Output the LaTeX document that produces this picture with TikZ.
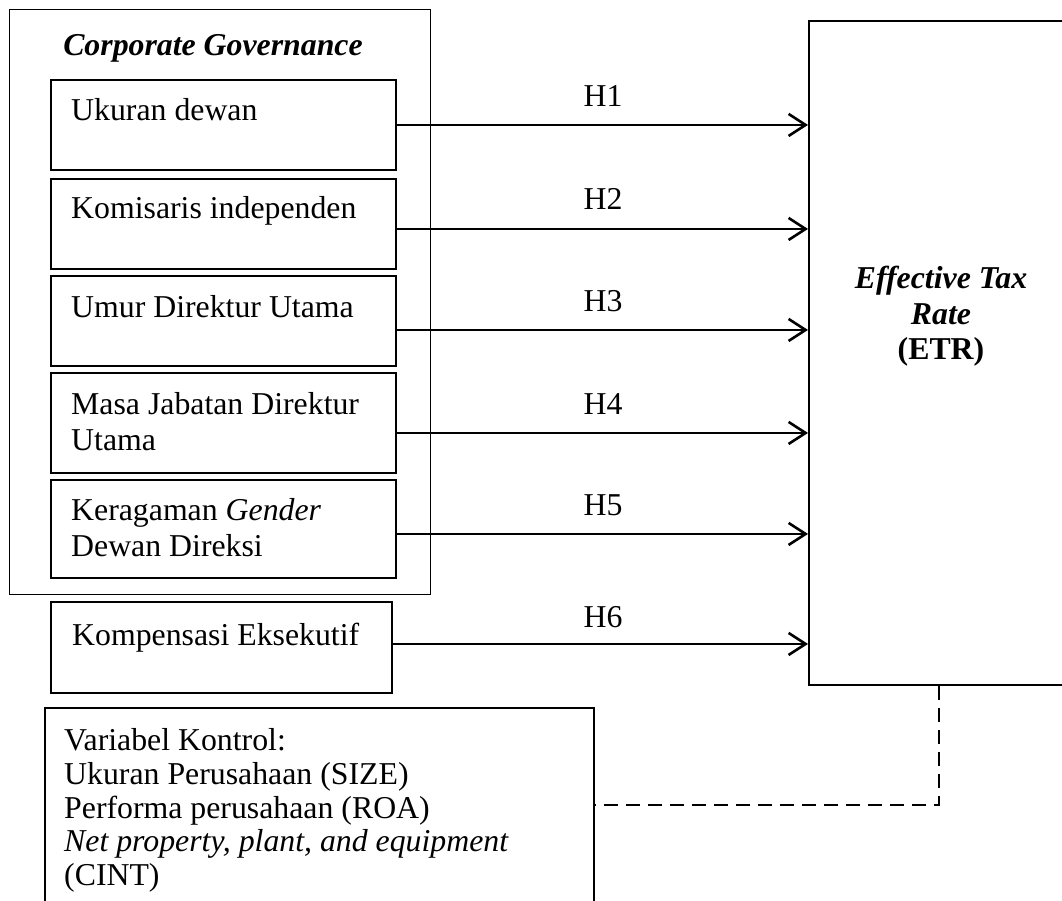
\documentclass[tikz,border=0pt]{standalone}
\usepackage{fontspec}
\setmainfont{Liberation Serif}
\usetikzlibrary{arrows.meta}
\newcommand\myfs{\fontsize{31.8}{35}\selectfont}
\begin{document}
\begin{tikzpicture}[x=1pt,y=-1pt,
  vbox/.style={draw, line width=1.9pt, inner sep=0pt, anchor=north west},
  outerbox/.style={draw, line width=1.2pt, inner sep=0pt, anchor=north west},
  lbl/.style={inner sep=0pt, anchor=base west, font=\myfs},
  hyp/.style={inner sep=0pt, anchor=base, font=\myfs},
  arr/.style={line width=2.6pt, -{Straight Barb[length=17pt,width=22pt]}},
  ctl/.style={line width=1.7pt, dash pattern=on 14pt off 8pt}
]
\useasboundingbox (0,0) rectangle (1062,901);
\clip (0,0) rectangle (1062,901);

% Corporate governance group
\node[outerbox, minimum width=421pt, minimum height=585pt] (cg) at (9,9) {};
\node[hyp, font=\myfs\bfseries\itshape] (cgt) at (213,56) {Corporate Governance};

% variable boxes
\node[vbox, minimum width=345pt, minimum height=90pt] (b1) at (50,79) {};
\node[vbox, minimum width=345pt, minimum height=90pt] (b2) at (50,178) {};
\node[vbox, minimum width=345pt, minimum height=90pt] (b3) at (50,275) {};
\node[vbox, minimum width=345pt, minimum height=100pt] (b4) at (50,372) {};
\node[vbox, minimum width=345pt, minimum height=98pt] (b5) at (50,479) {};
\node[vbox, minimum width=341pt, minimum height=91pt] (b6) at (50,601) {};
\node[vbox, minimum width=549pt, minimum height=240pt] (ctrl) at (44,707) {};
\node[vbox, minimum width=266pt, minimum height=664pt] (etr) at (808,20) {};

% texts
\node[lbl] (t1) at (71,121) {Ukuran dewan};
\node[lbl] (t2) at (71,219) {Komisaris independen};
\node[lbl] (t3) at (71,317) {Umur Direktur Utama};
\node[lbl] (t4a) at (71,414) {Masa Jabatan Direktur};
\node[lbl] (t4b) at (71,450) {Utama};
\node[lbl] (t5a) at (71,520) {Keragaman \textit{Gender}};
\node[lbl] (t5b) at (71,556) {Dewan Direksi};
\node[lbl] (t6) at (72,645) {Kompensasi Eksekutif};

\node[lbl] (c1) at (64,750) {Variabel Kontrol:};
\node[lbl] (c2) at (64,784) {Ukuran Perusahaan (SIZE)};
\node[lbl] (c3) at (64,818) {Performa perusahaan (ROA)};
\node[lbl] (c4) at (64,851) {\textit{Net property, plant, and equipment}};
\node[lbl] (c5) at (64,885) {(CINT)};

\node[hyp, font=\myfs\bfseries\itshape] (e1) at (941,288) {Effective Tax};
\node[hyp, font=\myfs\bfseries\itshape] (e2) at (941,324) {Rate};
\node[hyp, font=\myfs\bfseries] (e3) at (941,359) {(ETR)};

% arrows
\draw[arr] (b1.east) -- (b1.east -| etr.west);
\draw[arr] ([yshift=-5pt]b2.east) -- ([yshift=-5pt]b2.east -| etr.west);
\draw[arr] ([yshift=-9pt]b3.east) -- ([yshift=-9pt]b3.east -| etr.west);
\draw[arr] ([yshift=-10pt]b4.east) -- ([yshift=-10pt]b4.east -| etr.west);
\draw[arr] ([yshift=-5pt]b5.east) -- ([yshift=-5pt]b5.east -| etr.west);
\draw[arr] ([yshift=3.5pt]b6.east) -- ([yshift=3.5pt]b6.east -| etr.west);

\node[hyp] (h1) at (603,107) {H1};
\node[hyp] (h2) at (603,210) {H2};
\node[hyp] (h3) at (603,311) {H3};
\node[hyp] (h4) at (603,414) {H4};
\node[hyp] (h5) at (603,515) {H5};
\node[hyp] (h6) at (603,627) {H6};

% control link
\coordinate (dc) at (939,805);
\draw[ctl] (etr.south -| dc) -- (dc) -- (dc -| ctrl.east);
\end{tikzpicture}
\end{document}
